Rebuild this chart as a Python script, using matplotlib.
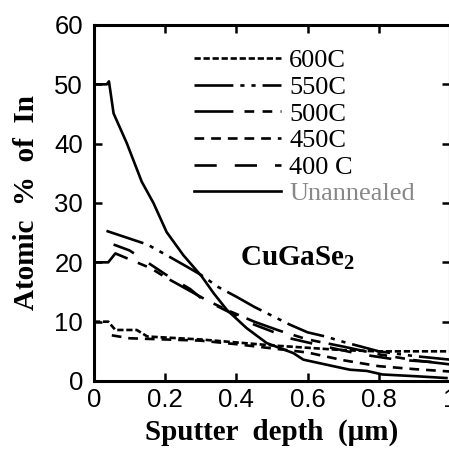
import matplotlib
matplotlib.use("Agg")
import matplotlib.pyplot as plt

# depth (um) and atomic % In
x_unann = [0.0, 0.036, 0.042, 0.055, 0.092, 0.134, 0.167, 0.204, 0.251, 0.303,
           0.336, 0.373, 0.429, 0.485, 0.56, 0.588, 0.672, 0.719, 0.766, 0.81, 0.905, 0.99]
y_unann = [50.0, 50.0, 50.5, 45.1, 40.1, 33.6, 30.0, 25.1, 21.2, 17.6,
           14.8, 12.0, 8.9, 6.4, 4.7, 3.6, 2.5, 1.9, 1.7, 1.1, 0.8, 0.5]

x_550 = [0.035, 0.07, 0.15, 0.21, 0.26, 0.30, 0.35, 0.40, 0.45, 0.50,
         0.55, 0.60, 0.65, 0.70, 0.75, 0.80, 0.90, 1.0]
y_550 = [25.3, 24.6, 23.0, 21.0, 19.3, 17.9, 15.8, 14.2, 12.5, 11.0,
         9.5, 8.2, 7.5, 6.6, 5.8, 5.0, 4.2, 3.6]

x_500 = [0.0, 0.04, 0.06, 0.12, 0.16, 0.20, 0.26, 0.32, 0.38, 0.45,
         0.52, 0.60, 0.70, 0.80, 0.90, 1.0]
y_500 = [20.0, 20.0, 21.5, 20.0, 19.0, 17.5, 15.5, 13.5, 11.8, 10.0,
         8.5, 7.0, 5.8, 4.5, 3.5, 2.8]

x_400 = [0.055, 0.10, 0.15, 0.20, 0.27, 0.30, 0.35, 0.40, 0.45, 0.55,
         0.65, 0.75, 0.85, 1.0]
y_400 = [23.0, 22.0, 20.0, 18.0, 15.5, 14.0, 12.5, 11.0, 9.5, 7.2,
         5.8, 4.5, 3.6, 3.0]

x_600 = [0.0, 0.04, 0.06, 0.12, 0.15, 0.30, 0.40, 0.50, 0.60, 0.70, 0.80, 0.90, 1.0]
y_600 = [10.0, 10.0, 8.6, 8.6, 7.5, 7.0, 6.5, 6.0, 5.6, 5.2, 5.0, 5.0, 5.0]

x_450 = [0.05, 0.10, 0.20, 0.30, 0.40, 0.50, 0.60, 0.70, 0.80, 0.90, 1.0]
y_450 = [7.7, 7.2, 7.0, 6.8, 6.2, 5.5, 4.8, 3.5, 2.5, 2.0, 1.6]

x_ticks = [0, 0.2, 0.4, 0.6, 0.8, 1.0]
x_labels = ["0", "0.2", "0.4", "0.6", "0.8", "1"]
y_ticks = [0, 10, 20, 30, 40, 50, 60]

plt.rcParams['lines.scale_dashes'] = False
plt.rcParams['mathtext.fontset'] = 'custom'
plt.rcParams['mathtext.bf'] = 'Liberation Serif:bold'
plt.rcParams['mathtext.rm'] = 'Liberation Serif'

fig = plt.figure(figsize=(4.49, 4.5), dpi=100)
ax = fig.add_axes([94/449, 69/450, 356/449, 356/450])

lw = 1.9
ax.plot(x_600, y_600, color='black', lw=lw, dashes=(4.5, 2.0), label='600C')
ax.plot(x_550, y_550, color='black', lw=lw, dashes=(28, 5, 3, 5, 3, 5), label='550C')
ax.plot(x_500, y_500, color='black', lw=lw, dashes=(28, 8, 7, 6, 7, 6), label='500C')
ax.plot(x_450, y_450, color='black', lw=lw, dashes=(7, 5), label='450C')
ax.plot(x_400, y_400, color='black', lw=lw, dashes=(16, 13), label='400 C')
ax.plot(x_unann, y_unann, color='black', lw=lw, label='Unannealed')

ax.set_xlim(0, 1.0)
ax.set_ylim(0, 60)
ax.set_xticks(x_ticks)
ax.set_xticklabels(x_labels)
ax.set_yticks(y_ticks)

for s in ax.spines.values():
    s.set_linewidth(2.2)

ax.tick_params(direction='in', length=6, width=1.8, top=True, right=True,
               labelsize=18.5, pad=5)
ax.tick_params(axis='y', pad=8)
for lab in ax.get_xticklabels() + ax.get_yticklabels():
    lab.set_family('Liberation Sans')

ax.set_xlabel('Sputter  depth  (\u03bcm)', family='Liberation Serif',
              fontweight='bold', fontsize=21, labelpad=5)
ax.set_ylabel('Atomic  %  of  In', family='Liberation Serif',
              fontweight='bold', fontsize=21, labelpad=10)

ax.text(0.41, 19.5, 'CuGaSe$_\\mathbf{2}$', family='Liberation Serif',
        fontweight='bold', fontsize=21, va='baseline')

leg = ax.legend(loc='upper left', bbox_to_anchor=(0.23, 0.985), frameon=False,
                handlelength=3.3, handletextpad=0.3, labelspacing=0.12,
                borderaxespad=0.3,
                prop={'family': 'Liberation Serif', 'size': 19})
for t in leg.get_texts():
    if t.get_text() == 'Unannealed':
        t.set_color('#888888')

fig.savefig('out.png', dpi=100)
